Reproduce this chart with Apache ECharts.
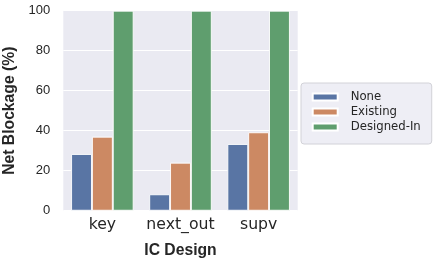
<!DOCTYPE html>
<html><head><meta charset="utf-8">
<script src="https://cdn.jsdelivr.net/npm/echarts@6/dist/echarts.min.js"></script>
<style>html,body{margin:0;padding:0;background:#fff}#c{width:437px;height:260px}</style>
</head><body><div id="c"></div>
<script>
const categories = ['key', 'next_out', 'supv'];
const seriesNames = ['None', 'Existing', 'Designed-In'];
const noneVals = [28.35, 8.2, 33.35];
const existingVals = [37.0, 24.0, 39.2];
const designedVals = [100, 100, 100];
const yTicks = [0, 20, 40, 60, 80, 100];
const colors = ['#5975a4', '#cc8963', '#5f9e6e'];

const chart = echarts.init(document.getElementById('c'));
const vals = [noneVals, existingVals, designedVals];
chart.setOption({
  animation: false,
  grid: { left: 63.3, right: 139.3, top: 10.7, bottom: 49.3, containLabel: false, outerBoundsMode: 'none',
    show: true, backgroundColor: '#eaeaf2', borderWidth: 0 },
  legend: {
    orient: 'vertical', left: 301, top: 83,
    padding: [7, 11, 10, 10.7],
    itemWidth: 25, itemHeight: 7, itemGap: 1,
    backgroundColor: '#eeeef5', borderColor: '#d2d2d8', borderWidth: 1, borderRadius: 3,
    icon: 'rect',
    formatter: name => '{g|}' + name,
    textStyle: { fontFamily: 'DejaVu Sans', fontSize: 11.7, color: '#262626', lineHeight: 14,
      rich: { g: { width: 8 } } },
    data: seriesNames
  },
  xAxis: {
    type: 'category', data: categories,
    axisLine: { show: false }, axisTick: { show: false },
    axisLabel: { interval: 0, fontFamily: 'DejaVu Sans', fontSize: 15.7, color: '#262626', margin: 6 },
    splitLine: { show: false },
    name: 'IC Design', nameLocation: 'middle', nameGap: 32,
    nameTextStyle: { fontFamily: 'Liberation Sans', fontWeight: 'bold', fontSize: 15.7, color: '#262626' }
  },
  yAxis: {
    type: 'value', min: 0, max: 100, interval: 20,
    axisLine: { show: false }, axisTick: { show: false },
    axisLabel: { fontFamily: 'Liberation Sans', fontSize: 13, color: '#262626', margin: 13,
      formatter: v => yTicks.includes(v) ? String(v) : '' },
    splitLine: { show: true, lineStyle: { color: '#ffffff', width: 1.2 } },
    name: 'Net Blockage (%)', nameLocation: 'middle', nameGap: 36,
    nameTextStyle: { fontFamily: 'Liberation Sans', fontWeight: 'bold', fontSize: 15.7, color: '#262626' }
  },
  series: seriesNames.map((n, i) => ({
    name: n, type: 'bar', data: vals[i],
    barGap: '0%', barCategoryGap: '20%',
    itemStyle: { color: colors[i], borderColor: '#ffffff', borderWidth: 0.9 }
  }))
});
</script></body></html>
